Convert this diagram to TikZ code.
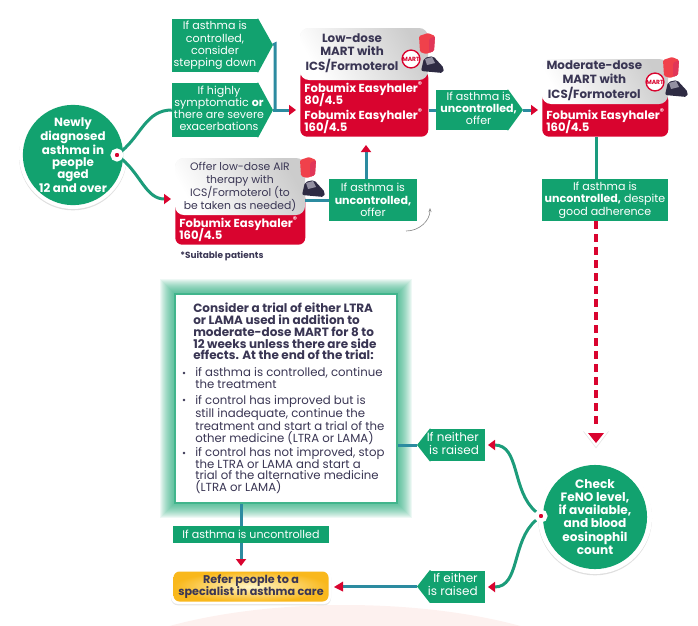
\documentclass[tikz,border=0pt]{standalone}
\usepackage{fontspec}
\setmainfont{Poppins}
\usetikzlibrary{arrows.meta,shadows,backgrounds}
\definecolor{agreen}{HTML}{12A26F}
\definecolor{acurve}{HTML}{1C9C7A}
\definecolor{ateal}{HTML}{2C8BA0}
\definecolor{ared}{HTML}{D9042F}
\definecolor{alight}{HTML}{F0414B}
\definecolor{ainka}{HTML}{3A3654}
\definecolor{apink}{HTML}{FDF1EF}
\definecolor{agold}{HTML}{F9B81C}
\definecolor{acream}{HTML}{FFF6C8}
\def\u{0.75pt}
\newcommand{\fobu}{\smash{Fobumix Easyhaler\textsuperscript{®}}}
\newcommand{\dose}[1]{\smash{#1}}
\newcommand{\redlines}[2]{\makebox[#1][l]{\begin{tabular}{@{}l@{}}#2\end{tabular}}}
\tikzset{pics/inhaler/.style={code={
      \fill[alight,rounded corners=1pt] (-8,-7) -- (1,-10) -- (8,-7) -- (7,8) -- (-1,11) -- (-7,9) -- cycle;
      \fill[ared!80!white,rounded corners=1pt] (2,-4) -- (8,-7) -- (7,8) -- (2,10) -- cycle;
      \fill[ainka!80!black,rounded corners=1.5pt] (-6,28) -- (-3,15) -- (6,13) -- (17,25) -- (16,30) -- cycle;
      \fill[ainka!55!white] (-2,16) -- (5,14) -- (8,20) -- (0,22) -- cycle;
    }}}
\begin{document}
\begin{tikzpicture}[x=0.75pt,y=-0.75pt]
      \tikzstyle{tagbox}=[fill=agreen,text=white,inner sep=0pt,align=center,font=\fontsize{8.3}{9.2}\selectfont]
      \tikzstyle{tagtip}=[fill=agreen]
      \tikzstyle{startnode}=[circle,fill=agreen,text=white,inner sep=0pt,minimum size=94*\u,align=center,font=\fontsize{8.9}{9}\selectfont\bfseries]
      \tikzstyle{ring}=[circle,fill=white,inner sep=0pt,drop shadow={shadow xshift=0pt,shadow yshift=-1pt,opacity=.25}]
      \tikzstyle{dot}=[circle,fill=ared,draw=white,line width=4*\u,inner sep=0pt,minimum size=9*\u]
      \tikzstyle{redbox}=[fill=ared,text=white,rounded corners=7*\u,anchor=south west,inner xsep=4*\u,inner ysep=2*\u,font=\fontsize{8.7}{9}\selectfont\bfseries]
      \tikzstyle{headbox}=[left color=black!20,right color=white,shading angle=-60,rounded corners=9*\u,inner sep=0pt,text=ainka,align=center,drop shadow={shadow xshift=0pt,shadow yshift=0pt,opacity=.12}]
      \tikzstyle{martbadge}=[circle,draw=ared,line width=1pt,inner sep=0pt,minimum size=16*\u,text=ared,font=\fontsize{4.5}{4.5}\selectfont\bfseries,fill=white]
      \tikzstyle{link}=[draw=ateal,line width=3*\u,-{Triangle[color=ared,length=7*\u,width=10*\u]}]
      \tikzstyle{plainlink}=[draw=ateal,line width=3*\u]
      \tikzstyle{curve}=[draw=acurve,line width=3*\u]
      \tikzstyle{curvearrow}=[curve,-{Triangle[color=ared,length=7*\u,width=10*\u]}]
      \tikzstyle{trialtext}=[text=ainka,anchor=north west,inner sep=0pt,align=left,font=\fontsize{8.8}{8.9}\selectfont]
      \useasboundingbox (0,0) rectangle (698,625);
      % pale shape along the bottom
      \begin{scope}
        \clip (0,0) rectangle (698,625);
        \fill[apink] (345,700) ellipse (280 and 95);
      \end{scope}
      % start circle
      \node[ring,minimum size=108*\u] (startring) at (73,155) {};
      \node[startnode] (start) at (73,155) {Newly\\diagnosed\\asthma in\\people\\aged\\12 and over};
      \node[dot] (startdot) at (117,155) {};
      % tags on the top left
      \node[tagbox,minimum width=86*\u,minimum height=53*\u] (tagdown) at (215,45.5) {If asthma is\\controlled,\\consider\\stepping down};
      \node[tagbox,minimum width=86*\u,minimum height=54*\u] (tagsevere) at (215,110) {\makebox[0pt]{\hspace*{6pt}\begin{tabular}{@{}c@{}}If highly\\symptomatic \textbf{or}\\there are severe\\exacerbations\end{tabular}}};
      \coordinate (tagdowntip) at (273,45);
      \coordinate (tagseveretip) at (273,110);
      % air box
      \node[redbox,minimum width=130*\u] (airred) at (175,245) {\redlines{91.5pt}{\rule{0pt}{25pt}\fobu\\\dose{160/4.5}}};
      \node[headbox,minimum width=130*\u,minimum height=57*\u,font=\fontsize{8.1}{9.8}\selectfont] (airhead) at (240,186.5) {Offer low-dose AIR\\therapy with\\ICS/Formoterol (to\\be taken as needed)};
      \pic at (308,167) {inhaler};
      \node[text=ainka,inner sep=0pt,anchor=west,font=\fontsize{6.7}{8}\selectfont\bfseries] (suitable) at (180,256) {*Suitable patients};
      % low dose box
      \node[redbox,minimum width=128*\u] (lowred) at (300,137) {\redlines{90pt}{\rule{0pt}{15pt}\fobu\\\dose{80/4.5}\\[2pt]\fobu\\\dose{160/4.5}}};
      \node[headbox,minimum width=128*\u,minimum height=52*\u,font=\fontsize{8.9}{9.8}\selectfont\bfseries] (lowhead) at (364,54) {\hspace*{-18pt}\begin{tabular}{@{}c@{}}Low-dose\\MART with\\ICS/Formoterol\end{tabular}};
      \pic at (427,43) {inhaler};
      \node[martbadge] (lowmart) at (411,59) {MART};
      % moderate dose box
      \node[redbox,minimum width=126*\u] (modred) at (542,137) {\redlines{88.5pt}{\rule{0pt}{18pt}\fobu\\\dose{160/4.5}}};
      \node[headbox,minimum width=126*\u,minimum height=45*\u,font=\fontsize{8.9}{9.8}\selectfont\bfseries] (modhead) at (605,81.5) {\hspace*{-16pt}\begin{tabular}{@{}c@{}}Moderate-dose\\MART with\\ICS/Formoterol\end{tabular}};
      \pic at (671,67) {inhaler};
      \node[martbadge] (modmart) at (655,82) {MART};
      % tags in the middle
      \node[tagbox,minimum width=88*\u,minimum height=42*\u] (tagair) at (373,200) {If asthma is\\\textbf{uncontrolled,}\\offer};
      \node[tagbox,minimum width=72*\u,minimum height=40*\u] (taglow) at (472,110) {\makebox[0pt]{\hspace*{10pt}\begin{tabular}{@{}c@{}}If asthma is\\\textbf{uncontrolled,}\\offer\end{tabular}}};
      \coordinate (taglowtip) at (523,110);
      \node[tagbox,minimum width=126*\u,minimum height=42*\u] (tagmod) at (605,200) {If asthma is\\\textbf{uncontrolled,} despite\\good adherence};
      % big box with its glow
      \foreach \g in {15,14,...,1}
        \fill[agreen,opacity=.07] (175-\g,294-\g) rectangle (397+\g,503+\g);
      \node[fill=white,draw=agreen!80,line width=2*\u,minimum width=222*\u,minimum height=209*\u,inner sep=0pt] (trial) at (286,398.5) {};
      \node[trialtext,font=\fontsize{9}{8.8}\selectfont\bfseries] (trialhead) at (193,303) {Consider a trial of either LTRA\\or LAMA used in addition to\\moderate-dose MART for 8 to\\12 weeks unless there are side\\effects. At the end of the trial:};
      \node[trialtext] (itema) at (195,367) {if asthma is controlled, continue\\the treatment};
      \node[trialtext] (itemb) at (195,395) {if control has improved but is\\still inadequate, continue the\\treatment and start a trial of the\\other medicine (LTRA or LAMA)};
      \node[trialtext] (itemc) at (195,447) {if control has not improved, stop\\the LTRA or LAMA and start a\\trial of the alternative medicine\\(LTRA or LAMA)};
      \foreach \y in {373,400,453}
        \fill[ainka] (184,\y) circle (1.3);
      % bottom part
      \node[tagbox,minimum width=156*\u,minimum height=17*\u] (taguncontrolled) at (251,534.5) {If asthma is uncontrolled};
      \node[rounded corners=7*\u,fill=white,minimum width=160*\u,minimum height=35*\u,drop shadow={shadow xshift=0pt,shadow yshift=-1pt,opacity=.2}] (referring) at (251,586.5) {};
      \node[rounded corners=6*\u,inner color=acream,outer color=agold,minimum width=155*\u,minimum height=30*\u,inner sep=0pt,text=ainka,align=center,font=\fontsize{8.4}{9.4}\selectfont\bfseries] (refer) at (251,586.5) {Refer people to a\\specialist in asthma care};
      \node[tagbox,minimum width=55*\u,minimum height=32*\u,font=\fontsize{9}{9.2}\selectfont] (tagneither) at (457.5,445) {\makebox[0pt]{\hspace*{-7pt}\begin{tabular}{@{}r@{}}If neither\\is raised\end{tabular}}};
      \coordinate (tagneithertip) at (417,445);
      \node[tagbox,minimum width=55*\u,minimum height=32*\u,font=\fontsize{9}{9.2}\selectfont] (tageither) at (457.5,586.5) {\makebox[0pt]{\hspace*{-7pt}\begin{tabular}{@{}r@{}}If either\\is raised\end{tabular}}};
      \coordinate (tageithertip) at (417,586.5);
      % points of the tags, under their texts
      \begin{scope}[on background layer]
        \path[tagtip] (tagdown.north east) -- (tagdowntip) -- (tagdown.south east) -- ([xshift=-1*\u]tagdown.south east) -- ([xshift=-1*\u]tagdown.north east) -- cycle;
        \path[tagtip] (tagsevere.north east) -- (tagseveretip) -- (tagsevere.south east) -- ([xshift=-1*\u]tagsevere.south east) -- ([xshift=-1*\u]tagsevere.north east) -- cycle;
        \path[tagtip] (taglow.north east) -- (taglowtip) -- (taglow.south east) -- ([xshift=-1*\u]taglow.south east) -- ([xshift=-1*\u]taglow.north east) -- cycle;
        \path[tagtip] (tagneither.north west) -- (tagneithertip) -- (tagneither.south west) -- ([xshift=1*\u]tagneither.south west) -- ([xshift=1*\u]tagneither.north west) -- cycle;
        \path[tagtip] (tageither.north west) -- (tageithertip) -- (tageither.south west) -- ([xshift=1*\u]tageither.south west) -- ([xshift=1*\u]tageither.north west) -- cycle;
      \end{scope}
      % check circle
      \node[ring,minimum size=114*\u] (checkring) at (595,517) {};
      \node[startnode,minimum size=100*\u,font=\fontsize{9.1}{9.8}\selectfont\bfseries] (check) at (595,517) {Check\\FeNO level,\\if available,\\and blood\\eosinophil\\count};
      \node[dot] (checkdot) at (541,516) {};
      % connectors
      \coordinate (lowin) at (296,110);
      \coordinate (modin) at (538,110);
      \coordinate (lowunder) at (366,145);
      \coordinate (airin) at (171,199);
      \coordinate (joinup) at (275,44);
      \coordinate (joindown) at (275,110);
      \coordinate (modline) at (596,170);
      \coordinate (checktop) at (596,443);
      \coordinate (referabove) at (241,566);
      \coordinate (referright) at (334,587);
      \coordinate (neitherin) at (488,445);
      \coordinate (eitherin) at (488,587);
      \path[curve] (startdot) to[out=40,in=180] (tagsevere.west);
      \path[curvearrow] (startdot) to[out=-40,in=180] (airin);
      \path[plainlink] (tagdowntip) -- (joinup) -- (joindown);
      \path[link] (tagseveretip) -- (lowin);
      \path[plainlink] (lowred.east |- taglow) -- (taglow.west);
      \path[link] (taglowtip) -- (modin);
      \path[plainlink] (airhead.east |- tagair) -- (tagair.west);
      \path[link] (tagair.north -| lowunder) -- (lowunder);
      \path[draw=agreen!70!ateal,line width=3*\u] (modred.south -| modline) -- (tagmod.north -| modline);
      \path[draw=ared,line width=3.5*\u,dash pattern=on 8*\u off 5*\u] (tagmod.south -| modline) -- (596,424);
      \path[fill=white,drop shadow={shadow xshift=0pt,shadow yshift=-1pt,opacity=.2}] (583,430) -- (609,430) -- (596,447) -- cycle;
      \path[fill=ared] (588,433) -- (604,433) -- (checktop) -- cycle;
      \path[plainlink] (trial.east |- tagneither) -- (tagneithertip);
      \path[plainlink] (trial.south -| referabove) -- (taguncontrolled.north -| referabove);
      \path[link] (taguncontrolled.south -| referabove) -- (referabove);
      \path[plainlink] (tageithertip) -- (343,586.5);
      \path[fill=ared] (343,581.5) -- (343,591.5) -- (referright) -- cycle;
      \path[curvearrow] (checkdot) to[out=140,in=0] (neitherin);
      \path[curvearrow] (checkdot) to[out=-140,in=0] (eitherin);
      % small grey arrow
      \coordinate (greyfrom) at (406,231);
      \coordinate (greyto) at (430,208);
      \path[draw=black!45,line width=.5pt,-{Stealth[length=3pt]}] (greyfrom) to[out=0,in=-90] (greyto);
\end{tikzpicture}
\end{document}
